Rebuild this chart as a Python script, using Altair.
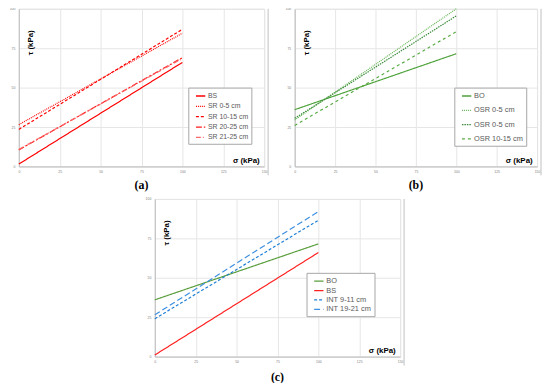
import altair as alt
import pandas as pd

X_ENDS = [0, 100]

# Panel (a)
A_SERIES = ["BS", "SR 0-5 cm", "SR 10-15 cm", "SR 20-25 cm", "SR 21-25 cm"]
A_START = [1.5, 26.5, 23.5, 10.5, 10.8]
A_END = [66.0, 84.5, 87.0, 69.0, 68.5]

# Panel (b)
B_SERIES = ["BO", "OSR 0-5 cm", "OSR 0-5 cm", "OSR 10-15 cm"]
B_START = [36.0, 29.5, 30.5, 26.0]
B_END = [71.5, 100.0, 95.5, 85.5]

# Panel (c)
C_SERIES = ["BO", "BS", "INT 9-11 cm", "INT 19-21 cm"]
C_START = [36.0, 1.0, 24.0, 26.5]
C_END = [71.5, 66.0, 86.5, 92.0]

X_TICKS = [0, 25, 50, 75, 100, 125, 150]
Y_TICKS = [0, 25, 50, 75, 100]

# styles
A_COLORS = ["#ff0000", "#ff0000", "#ff0000", "#ff1a1a", "#ff6a6a"]
A_DASH = [[1, 0], [1, 1], [3, 2], [6, 2, 2, 2], [5, 2, 1, 2]]
B_COLORS = ["#4fa33c", "#62b450", "#3a8a3a", "#5aab46"]
B_DASH = [[1, 0], [1, 1], [1.5, 1], [3, 3]]
C_COLORS = ["#5a9e3c", "#ff2020", "#1f7fd6", "#3d8fe0"]
C_DASH = [[1, 0], [1, 0], [3, 2], [6, 3]]

FONT = "Liberation Sans"


def panel(series, start, end, colors, dashes, w, h, tag, lx, ly, lfs, lrp, toff):
    keys = [f"{s}#{i}" for i, s in enumerate(series)]
    rows = []
    for k, s0, s1 in zip(keys, start, end):
        rows.append({"key": k, "x": X_ENDS[0], "y": s0})
        rows.append({"key": k, "x": X_ENDS[1], "y": s1})
    df = pd.DataFrame(rows)

    leg = alt.Legend(
        orient="none", legendX=lx, legendY=ly, title=None,
        labelExpr="split(datum.label, '#')[0]",
        symbolType="stroke", symbolSize=90, symbolStrokeWidth=1.3,
        labelFontSize=lfs, labelFont=FONT, labelColor="#595959",
        rowPadding=lrp, padding=3, symbolOffset=4, labelOffset=2,
        strokeColor="#a6a6a6", fillColor="white",
    )
    x_axis = alt.Axis(
        values=X_TICKS, title="σ (kPa)", titleX=w - 5, titleY=-6,
        titleAlign="right", titleBaseline="middle", titleFontSize=8,
        titleFontWeight="bold", titleFont=FONT, titleColor="black",
        labelFontSize=3.5, labelColor="#808080", labelPadding=3,
        labelFont=FONT, ticks=False, domainColor="#bfbfbf",
        gridColor="#e6e6e6", labelFlush=False,
    )
    y_axis = alt.Axis(
        values=Y_TICKS, title="τ (kPa)", titleX=12, titleY=34,
        titleAngle=270, titleAlign="center", titleBaseline="middle",
        titleFontSize=8, titleFontWeight="bold", titleFont=FONT,
        titleColor="black", labelFontSize=3.5, labelColor="#808080",
        labelPadding=4, labelFont=FONT, ticks=False,
        domainColor="#bfbfbf", gridColor="#e6e6e6", labelFlush=False,
    )
    lines = alt.Chart(df).mark_line(strokeWidth=1.2).encode(
        x=alt.X("x:Q", scale=alt.Scale(domain=[0, 150], nice=False), axis=x_axis),
        y=alt.Y("y:Q", scale=alt.Scale(domain=[0, 100], nice=False), axis=y_axis),
        color=alt.Color("key:N", scale=alt.Scale(domain=keys, range=colors), legend=leg),
        strokeDash=alt.StrokeDash("key:N", scale=alt.Scale(domain=keys, range=dashes), legend=leg),
    )
    border = alt.Chart(pd.DataFrame({"v": [0]})).mark_rule(
        color="#bfbfbf", strokeWidth=1
    ).encode(x=alt.value(w + 4), y=alt.value(0), y2=alt.value(h + 9))
    return alt.layer(lines, border).properties(
        width=w, height=h,
        title=alt.TitleParams(
            tag, orient="bottom", font="Liberation Serif", fontSize=12,
            fontWeight="bold", color="black", offset=toff, anchor="middle",
            frame="group",
        ),
    )


pa = panel(A_SERIES, A_START, A_END, A_COLORS, A_DASH, 249, 160, "(a)", 172, 80, 7, 1.5, 4)
pb = panel(B_SERIES, B_START, B_END, B_COLORS, B_DASH, 246, 160, "(b)", 162, 80, 7.5, 5.5, 4)
pc = panel(C_SERIES, C_START, C_END, C_COLORS, C_DASH, 249, 160, "(c)", 154, 75, 7.5, 0.5, 6)

spacer = alt.Chart(pd.DataFrame({"v": [0]})).mark_point(opacity=0).encode(
    x=alt.value(0), y=alt.value(0)
).properties(width=126, height=1, view=alt.ViewBackground(stroke="transparent", fill="transparent"))

top = alt.hconcat(pa, pb, spacing=15).resolve_scale(color="independent", strokeDash="independent")
bottom = alt.hconcat(spacer, pc, spacing=0).resolve_scale(color="independent", strokeDash="independent")

chart = alt.vconcat(top, bottom, spacing=4).resolve_scale(
    color="independent", strokeDash="independent"
).properties(
    padding={"left": 0, "top": -5, "right": 0, "bottom": -3}
).configure_view(stroke="transparent").configure(background="white")

chart.save("out.html", embed_options={"renderer": "svg", "actions": False})
